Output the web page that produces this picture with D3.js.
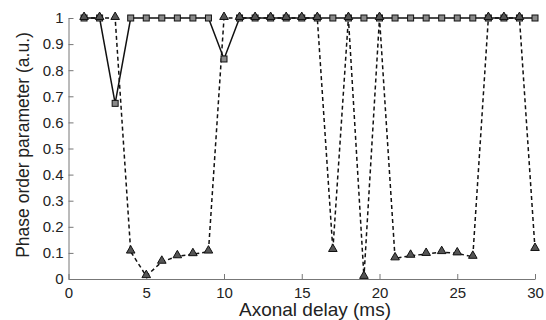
<!DOCTYPE html>
<html>
<head>
<meta charset="utf-8">
<script src="https://cdn.jsdelivr.net/npm/d3@7"></script>
<style>
  body { margin: 0; background: #fff; }
  svg text { font-family: "Liberation Sans", Arial, sans-serif; fill: #222; }
</style>
</head>
<body>
<svg id="chart" width="546" height="320"></svg>
<script>
// axonal delay (ms)
var delays = d3.range(1, 31);

// solid line, square markers
var squareVals = [1, 1, 0.673, 1, 1, 1, 1, 1, 1, 0.843,
                  1, 1, 1, 1, 1, 1, 1, 1, 1, 1,
                  1, 1, 1, 1, 1, 1, 1, 1, 1, 1];

// dashed line, triangle markers
var triangleVals = [1, 1, 1, 0.105, 0.011, 0.066, 0.087, 0.095, 0.105, 1,
                    1, 1, 1, 1, 1, 1, 0.111, 1, 0.008, 1,
                    0.079, 0.089, 0.096, 0.103, 0.098, 0.085, 1, 1, 1, 0.115];

var xTicks = [0, 5, 10, 15, 20, 25, 30];
var yTicks = d3.range(0, 11).map(d => d / 10);

var svg = d3.select("#chart");
var x = d3.scaleLinear().domain([0, 30]).range([68.5, 535]);
var y = d3.scaleLinear().domain([0, 1]).range([279, 18]);

// axes, matlab style: ticks point inwards
var xAxis = svg.append("g")
  .attr("transform", "translate(0," + y(0) + ")")
  .call(d3.axisBottom(x).tickValues(xTicks).tickSizeInner(-5).tickSizeOuter(0).tickPadding(8));
var yAxis = svg.append("g")
  .attr("transform", "translate(" + x(0) + ",0)")
  .call(d3.axisLeft(y).tickValues(yTicks).tickSizeInner(-5).tickSizeOuter(0).tickPadding(5)
    .tickFormat(d => d === 0 || d === 1 ? d3.format("d")(d) : d3.format(".1f")(d)));

[xAxis, yAxis].forEach(g => {
  g.selectAll("path, line").attr("stroke", "#777").attr("stroke-width", 1);
  g.selectAll("text").style("font-size", "15px").attr("fill", "#222");
});

var line = d3.line().x((d, i) => x(delays[i])).y(d => y(d));

svg.append("path")
  .datum(triangleVals)
  .attr("d", line)
  .attr("fill", "none")
  .attr("stroke", "#111")
  .attr("stroke-width", 1.5)
  .attr("stroke-dasharray", "4,3");

svg.append("path")
  .datum(squareVals)
  .attr("d", line)
  .attr("fill", "none")
  .attr("stroke", "#111")
  .attr("stroke-width", 1.5);

svg.selectAll(".sq")
  .data(squareVals)
  .enter()
  .append("rect")
  .attr("class", "sq")
  .attr("x", (d, i) => x(delays[i]) - 3)
  .attr("y", d => y(d) - 3)
  .attr("width", 6)
  .attr("height", 6)
  .attr("fill", "#8a8a8a")
  .attr("stroke", "#111")
  .attr("stroke-width", 1);

var tri = d3.symbol().type(d3.symbolTriangle).size(32);
svg.selectAll(".tri")
  .data(triangleVals)
  .enter()
  .append("path")
  .attr("class", "tri")
  .attr("d", tri)
  .attr("transform", (d, i) => "translate(" + x(delays[i]) + "," + (y(d) - 1) + ")")
  .attr("fill", "#555")
  .attr("stroke", "#111")
  .attr("stroke-width", 1);

svg.append("text")
  .attr("x", 315)
  .attr("y", 316)
  .attr("text-anchor", "middle")
  .style("font-size", "19px")
  .text("Axonal delay (ms)");

svg.append("text")
  .attr("transform", "translate(29,145) rotate(-90)")
  .attr("text-anchor", "middle")
  .style("font-size", "17.5px")
  .text("Phase order parameter (a.u.)");
</script>
</body>
</html>
